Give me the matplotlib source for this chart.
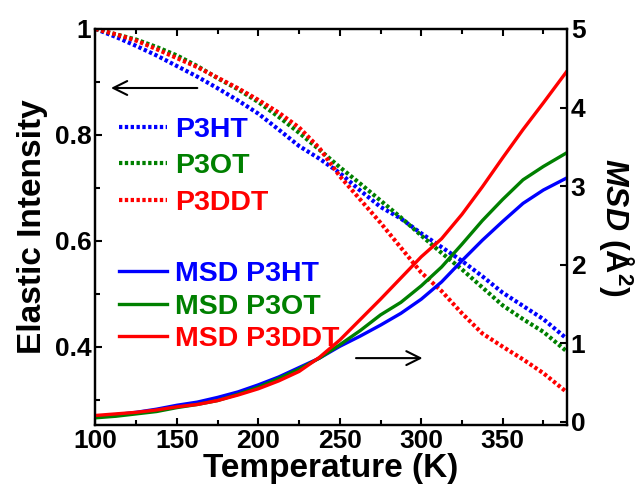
import matplotlib
matplotlib.use("Agg")
import matplotlib.pyplot as plt
from matplotlib.ticker import MultipleLocator, FixedLocator, FixedFormatter

plt.rcParams['font.family'] = ['Liberation Sans', 'DejaVu Sans']
plt.rcParams['font.weight'] = 'bold'
plt.rcParams['mathtext.fontset'] = 'custom'
plt.rcParams['mathtext.rm'] = 'Liberation Sans:bold'
plt.rcParams['mathtext.it'] = 'Liberation Sans:italic:bold'
plt.rcParams['mathtext.bf'] = 'Liberation Sans:bold'

# temperature (K)
temp = [100, 112.5, 125, 137.5, 150, 162.5, 175, 187.5, 200, 212.5, 225, 237.5,
        250, 262.5, 275, 287.5, 300, 312.5, 325, 337.5, 350, 362.5, 375, 389]

# elastic intensity (left axis)
el_p3ht = [1.0, 0.985, 0.968, 0.95, 0.93, 0.91, 0.888, 0.865, 0.84, 0.81, 0.779, 0.755,
           0.728, 0.695, 0.664, 0.642, 0.614, 0.588, 0.562, 0.533, 0.502, 0.477, 0.452, 0.416]
el_p3ot = [1.0, 0.99, 0.98, 0.966, 0.95, 0.93, 0.907, 0.886, 0.862, 0.834, 0.804, 0.772,
           0.739, 0.708, 0.676, 0.644, 0.61, 0.577, 0.546, 0.512, 0.478, 0.452, 0.428, 0.392]
el_p3ddt = [1.0, 0.99, 0.978, 0.962, 0.945, 0.928, 0.908, 0.888, 0.866, 0.842, 0.814, 0.775,
            0.722, 0.678, 0.634, 0.587, 0.54, 0.505, 0.463, 0.425, 0.40, 0.376, 0.35, 0.315]

# MSD in A^2 (right axis)
msd_p3ht = [0.06, 0.09, 0.12, 0.16, 0.21, 0.25, 0.31, 0.38, 0.47, 0.57, 0.69, 0.81,
            0.96, 1.09, 1.23, 1.38, 1.56, 1.78, 2.05, 2.31, 2.55, 2.78, 2.95, 3.1]
msd_p3ot = [0.05, 0.07, 0.1, 0.13, 0.18, 0.22, 0.27, 0.35, 0.44, 0.55, 0.67, 0.81,
            0.98, 1.16, 1.36, 1.52, 1.73, 1.97, 2.26, 2.56, 2.83, 3.08, 3.25, 3.42]
msd_p3ddt = [0.08, 0.1, 0.12, 0.15, 0.19, 0.22, 0.27, 0.34, 0.42, 0.52, 0.64, 0.82,
             1.04, 1.3, 1.56, 1.83, 2.1, 2.33, 2.64, 2.99, 3.36, 3.72, 4.06, 4.45]

names = ['P3HT', 'P3OT', 'P3DDT']
colors = ['#0000ff', '#008000', '#ff0000']

fig = plt.figure(figsize=(6.43, 4.88), dpi=100)
ax = fig.add_axes([0.1485, 0.129, 0.7328, 0.8116])
ax2 = ax.twinx()

dot = (0, (0.8, 0.6))
el_lines = []
for y, c, n in zip([el_p3ht, el_p3ot, el_p3ddt], colors, names):
    l, = ax.plot(temp, y, color=c, lw=3, linestyle=dot, dash_capstyle='butt', label=n)
    el_lines.append(l)

msd_lines = []
for y, c, n in zip([msd_p3ht, msd_p3ot, msd_p3ddt], colors, names):
    l, = ax2.plot(temp, y, color=c, lw=2.4, label='MSD ' + n)
    msd_lines.append(l)

ax.set_xlim(100, 389.3)
ax.set_ylim(0.252, 1.0)
ax2.set_ylim(-0.042, 5.0)

ax.xaxis.set_major_locator(MultipleLocator(50))
ax.xaxis.set_minor_locator(MultipleLocator(25))
ax.yaxis.set_major_locator(FixedLocator([0.4, 0.6, 0.8, 1.0]))
ax.yaxis.set_major_formatter(FixedFormatter(['0.4', '0.6', '0.8', '1']))
ax.yaxis.set_minor_locator(FixedLocator([0.3, 0.5, 0.7, 0.9]))
ax2.yaxis.set_major_locator(MultipleLocator(1))

for a in (ax, ax2):
    for s in a.spines.values():
        s.set_linewidth(1.6)
ax.tick_params(which='both', direction='in', top=True, width=1.5, labelsize=19, pad=3)
ax.tick_params(which='major', length=5)
ax.tick_params(which='minor', length=3.5)
ax2.tick_params(which='both', direction='in', width=1.5, length=5, labelsize=19, pad=3)

ax.set_xlabel('Temperature (K)', fontsize=24, fontweight='bold', labelpad=0)
ax.set_ylabel('Elastic Intensity', fontsize=24, fontweight='bold', labelpad=5)
ax2.set_ylabel(r'$\mathit{MSD}$ (Å$^{2}$)', fontsize=23, fontweight='bold',
               rotation=270, labelpad=36)

# direction arrows
ax2.annotate('', xy=(0.027, 0.851), xytext=(0.222, 0.851), xycoords='axes fraction',
             arrowprops=dict(arrowstyle='->', color='black', lw=1.5, mutation_scale=25))
ax2.annotate('', xy=(0.70, 0.169), xytext=(0.547, 0.169), xycoords='axes fraction',
             arrowprops=dict(arrowstyle='->', color='black', lw=1.5, mutation_scale=25))

leg1 = ax2.legend(handles=el_lines, loc='upper left', bbox_to_anchor=(0.05, 0.778),
                  frameon=False, fontsize=20.5, labelcolor='linecolor',
                  handlelength=1.7, handletextpad=0.28, labelspacing=0.37,
                  borderaxespad=0, borderpad=0)
ax2.add_artist(leg1)
ax2.legend(handles=msd_lines, loc='upper left', bbox_to_anchor=(0.05, 0.415),
           frameon=False, fontsize=20.5, labelcolor='linecolor',
           handlelength=1.7, handletextpad=0.28, labelspacing=0.24,
           borderaxespad=0, borderpad=0)

fig.savefig('out.png', dpi=100)
